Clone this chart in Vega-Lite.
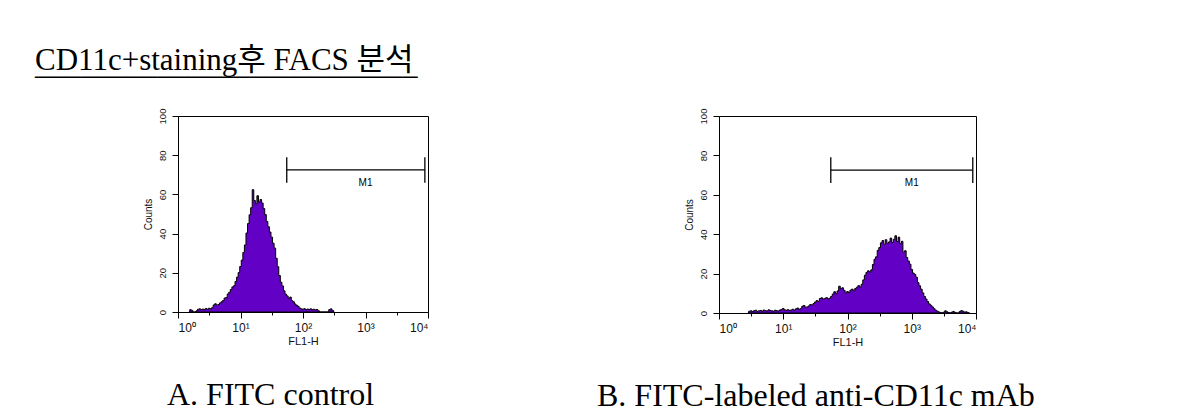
{
  "$schema": "https://vega.github.io/schema/vega-lite/v6.json",
  "padding": {"left": 35, "top": 44, "right": 5, "bottom": 0},
  "background": "white",
  "bounds": "flush",
  "spacing": 291,
  "title": {
    "text": "CD11c+staining후 FACS 분석",
    "subtitle": "_________________________",
    "anchor": "start",
    "frame": "group",
    "font": "'Liberation Serif', 'Noto Sans CJK KR'",
    "fontSize": 31,
    "fontWeight": "normal",
    "color": "#000",
    "baseline": "alphabetic",
    "subtitleFont": "Liberation Serif",
    "subtitleFontSize": 30.6,
    "subtitleColor": "#000",
    "subtitlePadding": -27,
    "dx": -143,
    "offset": 2
  },
  "datasets": {
    "fitcControl": [
      {"logFL1": 0.175, "counts": 0}, {"logFL1": 0.2, "counts": 1.2}, {"logFL1": 0.225, "counts": 0.8}, {"logFL1": 0.25, "counts": 0},
      {"logFL1": 0.275, "counts": 0}, {"logFL1": 0.3, "counts": 0.6}, {"logFL1": 0.325, "counts": 1.4}, {"logFL1": 0.35, "counts": 1.6},
      {"logFL1": 0.375, "counts": 1.2}, {"logFL1": 0.4, "counts": 1.5}, {"logFL1": 0.425, "counts": 1.3}, {"logFL1": 0.45, "counts": 1.8},
      {"logFL1": 0.475, "counts": 1.4}, {"logFL1": 0.5, "counts": 1.9}, {"logFL1": 0.525, "counts": 1.6}, {"logFL1": 0.55, "counts": 2.2},
      {"logFL1": 0.575, "counts": 3.6}, {"logFL1": 0.6, "counts": 4.2}, {"logFL1": 0.625, "counts": 3.5}, {"logFL1": 0.65, "counts": 3.8},
      {"logFL1": 0.675, "counts": 4.6}, {"logFL1": 0.7, "counts": 5.2}, {"logFL1": 0.725, "counts": 5.8}, {"logFL1": 0.75, "counts": 7.1},
      {"logFL1": 0.775, "counts": 7.4}, {"logFL1": 0.8, "counts": 9.2}, {"logFL1": 0.825, "counts": 10.1}, {"logFL1": 0.85, "counts": 11.5},
      {"logFL1": 0.875, "counts": 12.8}, {"logFL1": 0.9, "counts": 13.4}, {"logFL1": 0.925, "counts": 15.6}, {"logFL1": 0.95, "counts": 17.8},
      {"logFL1": 0.975, "counts": 20.1}, {"logFL1": 1.0, "counts": 23.2}, {"logFL1": 1.025, "counts": 26.5}, {"logFL1": 1.05, "counts": 30.4},
      {"logFL1": 1.075, "counts": 34.2}, {"logFL1": 1.1, "counts": 40.3}, {"logFL1": 1.125, "counts": 45.1}, {"logFL1": 1.15, "counts": 49.6},
      {"logFL1": 1.175, "counts": 53.2}, {"logFL1": 1.2, "counts": 62.4}, {"logFL1": 1.225, "counts": 56.9}, {"logFL1": 1.25, "counts": 55.2},
      {"logFL1": 1.275, "counts": 59.3}, {"logFL1": 1.3, "counts": 56.1}, {"logFL1": 1.325, "counts": 57.4}, {"logFL1": 1.35, "counts": 55.6},
      {"logFL1": 1.375, "counts": 52.8}, {"logFL1": 1.4, "counts": 49.7}, {"logFL1": 1.425, "counts": 46.2}, {"logFL1": 1.45, "counts": 43.5},
      {"logFL1": 1.475, "counts": 40.8}, {"logFL1": 1.5, "counts": 38.2}, {"logFL1": 1.525, "counts": 35.1}, {"logFL1": 1.55, "counts": 32.6},
      {"logFL1": 1.575, "counts": 27.4}, {"logFL1": 1.6, "counts": 23.1}, {"logFL1": 1.625, "counts": 18.6}, {"logFL1": 1.65, "counts": 15.2},
      {"logFL1": 1.675, "counts": 13.3}, {"logFL1": 1.7, "counts": 10.8}, {"logFL1": 1.725, "counts": 9.1}, {"logFL1": 1.75, "counts": 8.2},
      {"logFL1": 1.775, "counts": 7.0}, {"logFL1": 1.8, "counts": 7.6}, {"logFL1": 1.825, "counts": 5.8}, {"logFL1": 1.85, "counts": 5.2},
      {"logFL1": 1.875, "counts": 4.1}, {"logFL1": 1.9, "counts": 3.4}, {"logFL1": 1.925, "counts": 2.9}, {"logFL1": 1.95, "counts": 2.0},
      {"logFL1": 1.975, "counts": 1.6}, {"logFL1": 2.0, "counts": 1.4}, {"logFL1": 2.025, "counts": 1.7}, {"logFL1": 2.05, "counts": 1.2},
      {"logFL1": 2.075, "counts": 1.5}, {"logFL1": 2.1, "counts": 1.3}, {"logFL1": 2.125, "counts": 1.6}, {"logFL1": 2.15, "counts": 1.2},
      {"logFL1": 2.175, "counts": 1.4}, {"logFL1": 2.2, "counts": 1.1}, {"logFL1": 2.225, "counts": 1.3}, {"logFL1": 2.25, "counts": 0.6},
      {"logFL1": 2.275, "counts": 0}, {"logFL1": 2.3, "counts": 0}, {"logFL1": 2.4, "counts": 0}, {"logFL1": 2.425, "counts": 1.2},
      {"logFL1": 2.45, "counts": 1.6}, {"logFL1": 2.475, "counts": 0.8}, {"logFL1": 2.5, "counts": 0}
    ],
    "antiCD11c": [
      {"logFL1": 0.45, "counts": 0}, {"logFL1": 0.475, "counts": 0.9}, {"logFL1": 0.5, "counts": 1.1}, {"logFL1": 0.525, "counts": 0.7},
      {"logFL1": 0.55, "counts": 1.2}, {"logFL1": 0.575, "counts": 1.4}, {"logFL1": 0.6, "counts": 0.8}, {"logFL1": 0.625, "counts": 1.1},
      {"logFL1": 0.65, "counts": 1.3}, {"logFL1": 0.675, "counts": 0.9}, {"logFL1": 0.7, "counts": 1.5}, {"logFL1": 0.725, "counts": 1.2},
      {"logFL1": 0.75, "counts": 1.0}, {"logFL1": 0.775, "counts": 1.6}, {"logFL1": 0.8, "counts": 1.3}, {"logFL1": 0.825, "counts": 1.1},
      {"logFL1": 0.85, "counts": 0.9}, {"logFL1": 0.875, "counts": 1.4}, {"logFL1": 0.9, "counts": 1.2}, {"logFL1": 0.925, "counts": 1.0},
      {"logFL1": 0.95, "counts": 1.5}, {"logFL1": 0.975, "counts": 1.8}, {"logFL1": 1.0, "counts": 2.3}, {"logFL1": 1.025, "counts": 1.6},
      {"logFL1": 1.05, "counts": 1.4}, {"logFL1": 1.075, "counts": 1.7}, {"logFL1": 1.1, "counts": 1.3}, {"logFL1": 1.125, "counts": 1.5},
      {"logFL1": 1.15, "counts": 1.9}, {"logFL1": 1.175, "counts": 1.4}, {"logFL1": 1.2, "counts": 2.1}, {"logFL1": 1.225, "counts": 2.5},
      {"logFL1": 1.25, "counts": 1.9}, {"logFL1": 1.275, "counts": 2.2}, {"logFL1": 1.3, "counts": 3.4}, {"logFL1": 1.325, "counts": 3.8},
      {"logFL1": 1.35, "counts": 2.9}, {"logFL1": 1.375, "counts": 3.1}, {"logFL1": 1.4, "counts": 3.6}, {"logFL1": 1.425, "counts": 4.3},
      {"logFL1": 1.45, "counts": 4.1}, {"logFL1": 1.475, "counts": 4.8}, {"logFL1": 1.5, "counts": 5.6}, {"logFL1": 1.525, "counts": 6.3},
      {"logFL1": 1.55, "counts": 5.9}, {"logFL1": 1.575, "counts": 7.4}, {"logFL1": 1.6, "counts": 7.7}, {"logFL1": 1.625, "counts": 7.1},
      {"logFL1": 1.65, "counts": 7.4}, {"logFL1": 1.675, "counts": 7.8}, {"logFL1": 1.7, "counts": 7.2}, {"logFL1": 1.725, "counts": 7.5},
      {"logFL1": 1.75, "counts": 8.4}, {"logFL1": 1.775, "counts": 9.6}, {"logFL1": 1.8, "counts": 10.8}, {"logFL1": 1.825, "counts": 9.8},
      {"logFL1": 1.85, "counts": 11.2}, {"logFL1": 1.875, "counts": 13.6}, {"logFL1": 1.9, "counts": 12.4}, {"logFL1": 1.925, "counts": 12.8},
      {"logFL1": 1.95, "counts": 11.5}, {"logFL1": 1.975, "counts": 10.2}, {"logFL1": 2.0, "counts": 10.9}, {"logFL1": 2.025, "counts": 10.4},
      {"logFL1": 2.05, "counts": 11.6}, {"logFL1": 2.075, "counts": 12.1}, {"logFL1": 2.1, "counts": 11.3}, {"logFL1": 2.125, "counts": 12.4},
      {"logFL1": 2.15, "counts": 13.1}, {"logFL1": 2.175, "counts": 13.9}, {"logFL1": 2.2, "counts": 13.2}, {"logFL1": 2.225, "counts": 14.6},
      {"logFL1": 2.25, "counts": 16.8}, {"logFL1": 2.275, "counts": 19.2}, {"logFL1": 2.3, "counts": 20.6}, {"logFL1": 2.325, "counts": 21.4},
      {"logFL1": 2.35, "counts": 20.8}, {"logFL1": 2.375, "counts": 21.9}, {"logFL1": 2.4, "counts": 24.6}, {"logFL1": 2.425, "counts": 27.3},
      {"logFL1": 2.45, "counts": 28.5}, {"logFL1": 2.475, "counts": 31.8}, {"logFL1": 2.5, "counts": 33.2}, {"logFL1": 2.525, "counts": 35.6},
      {"logFL1": 2.55, "counts": 36.8}, {"logFL1": 2.575, "counts": 34.9}, {"logFL1": 2.6, "counts": 37.2}, {"logFL1": 2.625, "counts": 35.4},
      {"logFL1": 2.65, "counts": 36.1}, {"logFL1": 2.675, "counts": 38.0}, {"logFL1": 2.7, "counts": 35.8}, {"logFL1": 2.725, "counts": 37.4},
      {"logFL1": 2.75, "counts": 39.2}, {"logFL1": 2.775, "counts": 36.3}, {"logFL1": 2.8, "counts": 38.5}, {"logFL1": 2.825, "counts": 35.2},
      {"logFL1": 2.85, "counts": 36.4}, {"logFL1": 2.875, "counts": 30.9}, {"logFL1": 2.9, "counts": 31.6}, {"logFL1": 2.925, "counts": 28.2},
      {"logFL1": 2.95, "counts": 26.4}, {"logFL1": 2.975, "counts": 24.8}, {"logFL1": 3.0, "counts": 22.1}, {"logFL1": 3.025, "counts": 20.3},
      {"logFL1": 3.05, "counts": 19.6}, {"logFL1": 3.075, "counts": 18.2}, {"logFL1": 3.1, "counts": 15.4}, {"logFL1": 3.125, "counts": 13.8},
      {"logFL1": 3.15, "counts": 12.1}, {"logFL1": 3.175, "counts": 10.2}, {"logFL1": 3.2, "counts": 8.4}, {"logFL1": 3.225, "counts": 7.1},
      {"logFL1": 3.25, "counts": 5.8}, {"logFL1": 3.275, "counts": 4.6}, {"logFL1": 3.3, "counts": 3.9}, {"logFL1": 3.325, "counts": 3.1},
      {"logFL1": 3.35, "counts": 2.2}, {"logFL1": 3.375, "counts": 1.4}, {"logFL1": 3.4, "counts": 0.9}, {"logFL1": 3.425, "counts": 0.5},
      {"logFL1": 3.45, "counts": 0.3}, {"logFL1": 3.475, "counts": 0}, {"logFL1": 3.5, "counts": 0.4}, {"logFL1": 3.525, "counts": 1.1},
      {"logFL1": 3.55, "counts": 0.6}, {"logFL1": 3.575, "counts": 0.2}, {"logFL1": 3.6, "counts": 0}, {"logFL1": 3.625, "counts": 0.4},
      {"logFL1": 3.65, "counts": 0.8}, {"logFL1": 3.675, "counts": 0.3}, {"logFL1": 3.7, "counts": 0}, {"logFL1": 3.725, "counts": 0},
      {"logFL1": 3.75, "counts": 0.7}, {"logFL1": 3.775, "counts": 1.2}, {"logFL1": 3.8, "counts": 0.9}, {"logFL1": 3.825, "counts": 0.4},
      {"logFL1": 3.85, "counts": 0.6}, {"logFL1": 3.875, "counts": 0.2}, {"logFL1": 3.9, "counts": 0}
    ],
    "gate": [
      {"marker": "M1", "start": 1.74, "end": 3.95, "level": 72.5, "capLow": 66, "capHigh": 79, "labelPos": 3.0, "labelLevel": 66}
    ]
  },
  "hconcat": [
    {
      "width": 250,
      "height": 196,
      "title": {"text": "A. FITC control", "orient": "bottom", "anchor": "start", "frame": "group", "dx": -11, "offset": 34},
      "layer": [
        {
          "data": {"name": "fitcControl"},
          "mark": {"type": "area", "interpolate": "step", "fill": "#6300c6", "stroke": "#000", "strokeWidth": 1, "clip": true},
          "encoding": {
            "x": {"field": "logFL1", "type": "quantitative", "scale": {"domain": [0, 4], "nice": false}, "title": "FL1-H"},
            "y": {"field": "counts", "type": "quantitative", "scale": {"domain": [0, 100], "nice": false}, "title": "Counts"}
          }
        },
        {
          "data": {"name": "gate"},
          "mark": {"type": "rule", "color": "#000", "strokeWidth": 1.3},
          "encoding": {"x": {"field": "start", "type": "quantitative"}, "x2": {"field": "end"}, "y": {"field": "level", "type": "quantitative"}}
        },
        {
          "data": {"name": "gate"},
          "mark": {"type": "rule", "color": "#000", "strokeWidth": 1.3},
          "encoding": {"x": {"field": "start", "type": "quantitative"}, "y": {"field": "capLow", "type": "quantitative"}, "y2": {"field": "capHigh"}}
        },
        {
          "data": {"name": "gate"},
          "mark": {"type": "rule", "color": "#000", "strokeWidth": 1.3},
          "encoding": {"x": {"field": "end", "type": "quantitative"}, "y": {"field": "capLow", "type": "quantitative"}, "y2": {"field": "capHigh"}}
        },
        {
          "data": {"name": "gate"},
          "mark": {"type": "text", "font": "Liberation Sans", "fontSize": 10, "fill": "#000", "baseline": "middle", "align": "center"},
          "encoding": {"x": {"field": "labelPos", "type": "quantitative"}, "y": {"field": "labelLevel", "type": "quantitative"}, "text": {"field": "marker"}}
        }
      ]
    },
    {
      "width": 257,
      "height": 197,
      "title": {"text": "B. FITC-labeled anti-CD11c mAb", "orient": "bottom", "anchor": "start", "frame": "group", "dx": -122, "offset": 34},
      "layer": [
        {
          "data": {"name": "antiCD11c"},
          "mark": {"type": "area", "interpolate": "step", "fill": "#6300c6", "stroke": "#000", "strokeWidth": 1, "clip": true},
          "encoding": {
            "x": {"field": "logFL1", "type": "quantitative", "scale": {"domain": [0, 4], "nice": false}, "title": "FL1-H"},
            "y": {"field": "counts", "type": "quantitative", "scale": {"domain": [0, 100], "nice": false}, "title": "Counts"}
          }
        },
        {
          "data": {"name": "gate"},
          "mark": {"type": "rule", "color": "#000", "strokeWidth": 1.3},
          "encoding": {"x": {"field": "start", "type": "quantitative"}, "x2": {"field": "end"}, "y": {"field": "level", "type": "quantitative"}}
        },
        {
          "data": {"name": "gate"},
          "mark": {"type": "rule", "color": "#000", "strokeWidth": 1.3},
          "encoding": {"x": {"field": "start", "type": "quantitative"}, "y": {"field": "capLow", "type": "quantitative"}, "y2": {"field": "capHigh"}}
        },
        {
          "data": {"name": "gate"},
          "mark": {"type": "rule", "color": "#000", "strokeWidth": 1.3},
          "encoding": {"x": {"field": "end", "type": "quantitative"}, "y": {"field": "capLow", "type": "quantitative"}, "y2": {"field": "capHigh"}}
        },
        {
          "data": {"name": "gate"},
          "mark": {"type": "text", "font": "Liberation Sans", "fontSize": 10, "fill": "#000", "baseline": "middle", "align": "center"},
          "encoding": {"x": {"field": "labelPos", "type": "quantitative"}, "y": {"field": "labelLevel", "type": "quantitative"}, "text": {"field": "marker"}}
        }
      ]
    }
  ],
  "config": {
    "view": {"stroke": "#000", "strokeWidth": 1},
    "title": {"font": "Liberation Serif", "fontSize": 32, "fontWeight": "normal", "color": "#000", "baseline": "alphabetic"},
    "axis": {
      "grid": false,
      "domainColor": "#000",
      "tickColor": "#000",
      "labelColor": "#111",
      "titleColor": "#111",
      "labelFont": "Liberation Sans",
      "titleFont": "Liberation Sans",
      "titleFontWeight": "normal",
      "labelOverlap": false
    },
    "axisX": {
      "values": [0, 0.301, 0.477, 0.602, 0.699, 0.778, 0.845, 0.903, 0.954, 1, 1.301, 1.477, 1.602, 1.699, 1.778, 1.845, 1.903, 1.954, 2, 2.301, 2.477, 2.602, 2.699, 2.778, 2.845, 2.903, 2.954, 3, 3.301, 3.477, 3.602, 3.699, 3.778, 3.845, 3.903, 3.954, 4],
      "labelExpr": "datum.value == 0 ? '10⁰' : datum.value == 1 ? '10¹' : datum.value == 2 ? '10²' : datum.value == 3 ? '10³' : datum.value == 4 ? '10⁴' : ''",
      "tickSize": {"condition": {"test": "datum.value % 1 == 0", "value": 6}, "value": 3},
      "labelFontSize": 12,
      "labelPadding": 4,
      "titleFontSize": 11,
      "titlePadding": 2
    },
    "axisY": {
      "values": [0, 5, 10, 15, 20, 25, 30, 35, 40, 45, 50, 55, 60, 65, 70, 75, 80, 85, 90, 95, 100],
      "labelExpr": "datum.value % 20 == 0 ? datum.label : ''",
      "tickSize": {"condition": {"test": "datum.value % 20 == 0", "value": 6}, "value": 3},
      "labelAngle": 270,
      "labelAlign": "center",
      "labelBaseline": "bottom",
      "labelFontSize": 9.5,
      "labelPadding": 5,
      "titleFontSize": 10,
      "titlePadding": 4
    }
  }
}
